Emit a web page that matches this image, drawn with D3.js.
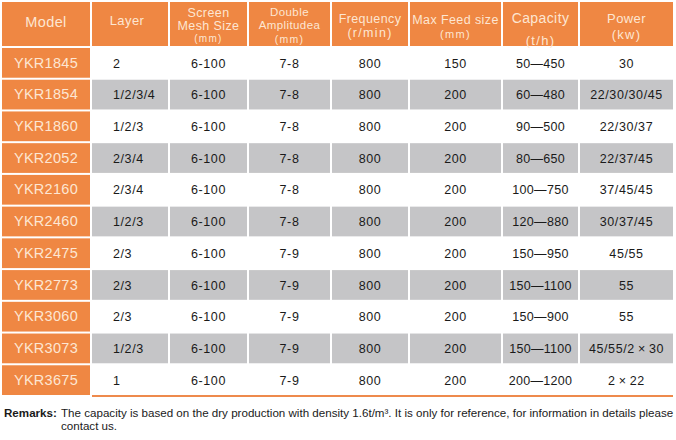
<!DOCTYPE html>
<html><head><meta charset="utf-8">
<script src="https://cdn.jsdelivr.net/npm/d3@7"></script>
<style>body{margin:0;background:#fff}svg{display:block}</style>
</head><body><svg id="c" width="676" height="440"></svg>
<script>
// ---- data ----
const headers = [["Model"],["Layer"],["Screen","Mesh Size","(mm)"],["Double","Amplitudea","(mm)"],["Frequency","(r/min)"],["Max Feed size","(mm)"],["Capacity","(t/h)"],["Power","(kw)"]];
const models = ["YKR1845","YKR1854","YKR1860","YKR2052","YKR2160","YKR2460","YKR2475","YKR2773","YKR3060","YKR3073","YKR3675"];
const layers = ["2","1/2/3/4","1/2/3","2/3/4","2/3/4","1/2/3","2/3","2/3","2/3","1/2/3","1"];
const meshSize = ["6-100","6-100","6-100","6-100","6-100","6-100","6-100","6-100","6-100","6-100","6-100"];
const amplitude = ["7-8","7-8","7-8","7-8","7-8","7-8","7-9","7-9","7-9","7-9","7-9"];
const frequency = [800,800,800,800,800,800,800,800,800,800,800];
const maxFeed = [150,200,200,200,200,200,200,200,200,200,200];
const capacity = ["50\u2014450","60\u2014480","90\u2014500","80\u2014650","100\u2014750","120\u2014880","150\u2014950","150\u20141100","150\u2014900","150\u20141100","200\u20141200"];
const power = ["30","22/30/30/45","22/30/37","22/37/45","37/45/45","30/37/45","45/55","55","55","45/55/2\u2009\u00d7\u200930","2\u2009\u00d7\u200922"];
const remark = "The capacity is based on the dry production with density 1.6t/m\u00b3. It is only for reference, for information in details please";
const remark2 = "contact us.";

// ---- layout ----
const colEdges = [2,92,170,249,332,410,503,580,675];
const ORANGE="#ef8743", GRAY="#c5c5c7", CREAM="#fde6d2", FONT="'Liberation Sans', Arial, sans-serif";
const svg = d3.select("#c");
const cols = d3.range(8);
const colX = i => colEdges[i], colW = i => colEdges[i+1]-colEdges[i]-2;
const y = d3.scaleBand().domain(models).range([48,395]).paddingInner(0.063).paddingOuter(0);

// header
const hg = svg.append("g");
hg.selectAll("rect").data(cols).join("rect")
  .attr("x",colX).attr("y",2).attr("width",colW).attr("height",44).attr("fill",ORANGE);
const hLines = {
  0:[[22,14.5]],1:[[20,13]],2:[[12.5,12.5],[26,12.5],[38.5,10]],3:[[12,11.5],[25,11.5],[39,10.5]],
  4:[[19,12.5],[33,12.5]],5:[[19.5,12.5],[34,11]],6:[[18.5,14],[40.5,13]],7:[[18.5,13],[34,13]]};
cols.forEach(i=>{
  headers[i].forEach((t,k)=>{
    const [yy,fs]=hLines[i][k];
    hg.append("text").attr("x",colX(i)+colW(i)/2 + (i===1?-3:0)).attr("y",yy+fs*0.35)
      .attr("text-anchor","middle").attr("font-family",FONT).attr("font-size",fs)
      .attr("fill",CREAM).attr("letter-spacing",t.startsWith("(")?1.3:0.4).text(t);
  });
});

// rows
const rows = models.map((m,r)=>[m,layers[r],meshSize[r],amplitude[r],frequency[r],maxFeed[r],capacity[r],power[r]]);
const rg = svg.append("g").selectAll("g").data(rows).join("g")
  .attr("transform",(d,r)=>`translate(0,${y(models[r])})`);
rg.each(function(d,r){
  const g=d3.select(this);
  g.append("rect").attr("x",colX(0)).attr("y",0).attr("width",colW(0)).attr("height",y.bandwidth()).attr("fill",ORANGE);
  if(r%2===1){
    g.selectAll("rect.g").data(cols.slice(1)).join("rect").attr("class","g")
      .attr("x",colX).attr("y",0).attr("width",colW).attr("height",y.bandwidth()).attr("fill",GRAY);
  }
  g.selectAll("text").data(d).join("text")
    .attr("x",(v,i)=> i===1 ? 113 : colX(i)+colW(i)/2)
    .attr("y",y.bandwidth()/2+4.7)
    .attr("text-anchor",(v,i)=> i===1?"start":"middle")
    .attr("font-family",FONT).attr("font-size",(v,i)=>i===0?14.5:12.5)
    .attr("letter-spacing",(v,i)=>i===0?0.3:(i===6?0.3:0.6))
    .attr("fill",(v,i)=>i===0?CREAM:"#1a1a1a").text(v=>v);
});
// bottom line
svg.append("rect").attr("x",92).attr("y",395).attr("width",581).attr("height",2).attr("fill","#ee8a4c");

// remarks
const rt = svg.append("text").attr("x",4).attr("y",417).attr("font-family",FONT).attr("font-size",11.6).attr("fill","#1a1a1a");
rt.append("tspan").attr("font-weight","bold").text("Remarks:");
rt.append("tspan").attr("x",61).text(remark);
svg.append("text").attr("x",61).attr("y",430).attr("font-family",FONT).attr("font-size",11.6).attr("fill","#1a1a1a").text(remark2);
</script></body></html>
